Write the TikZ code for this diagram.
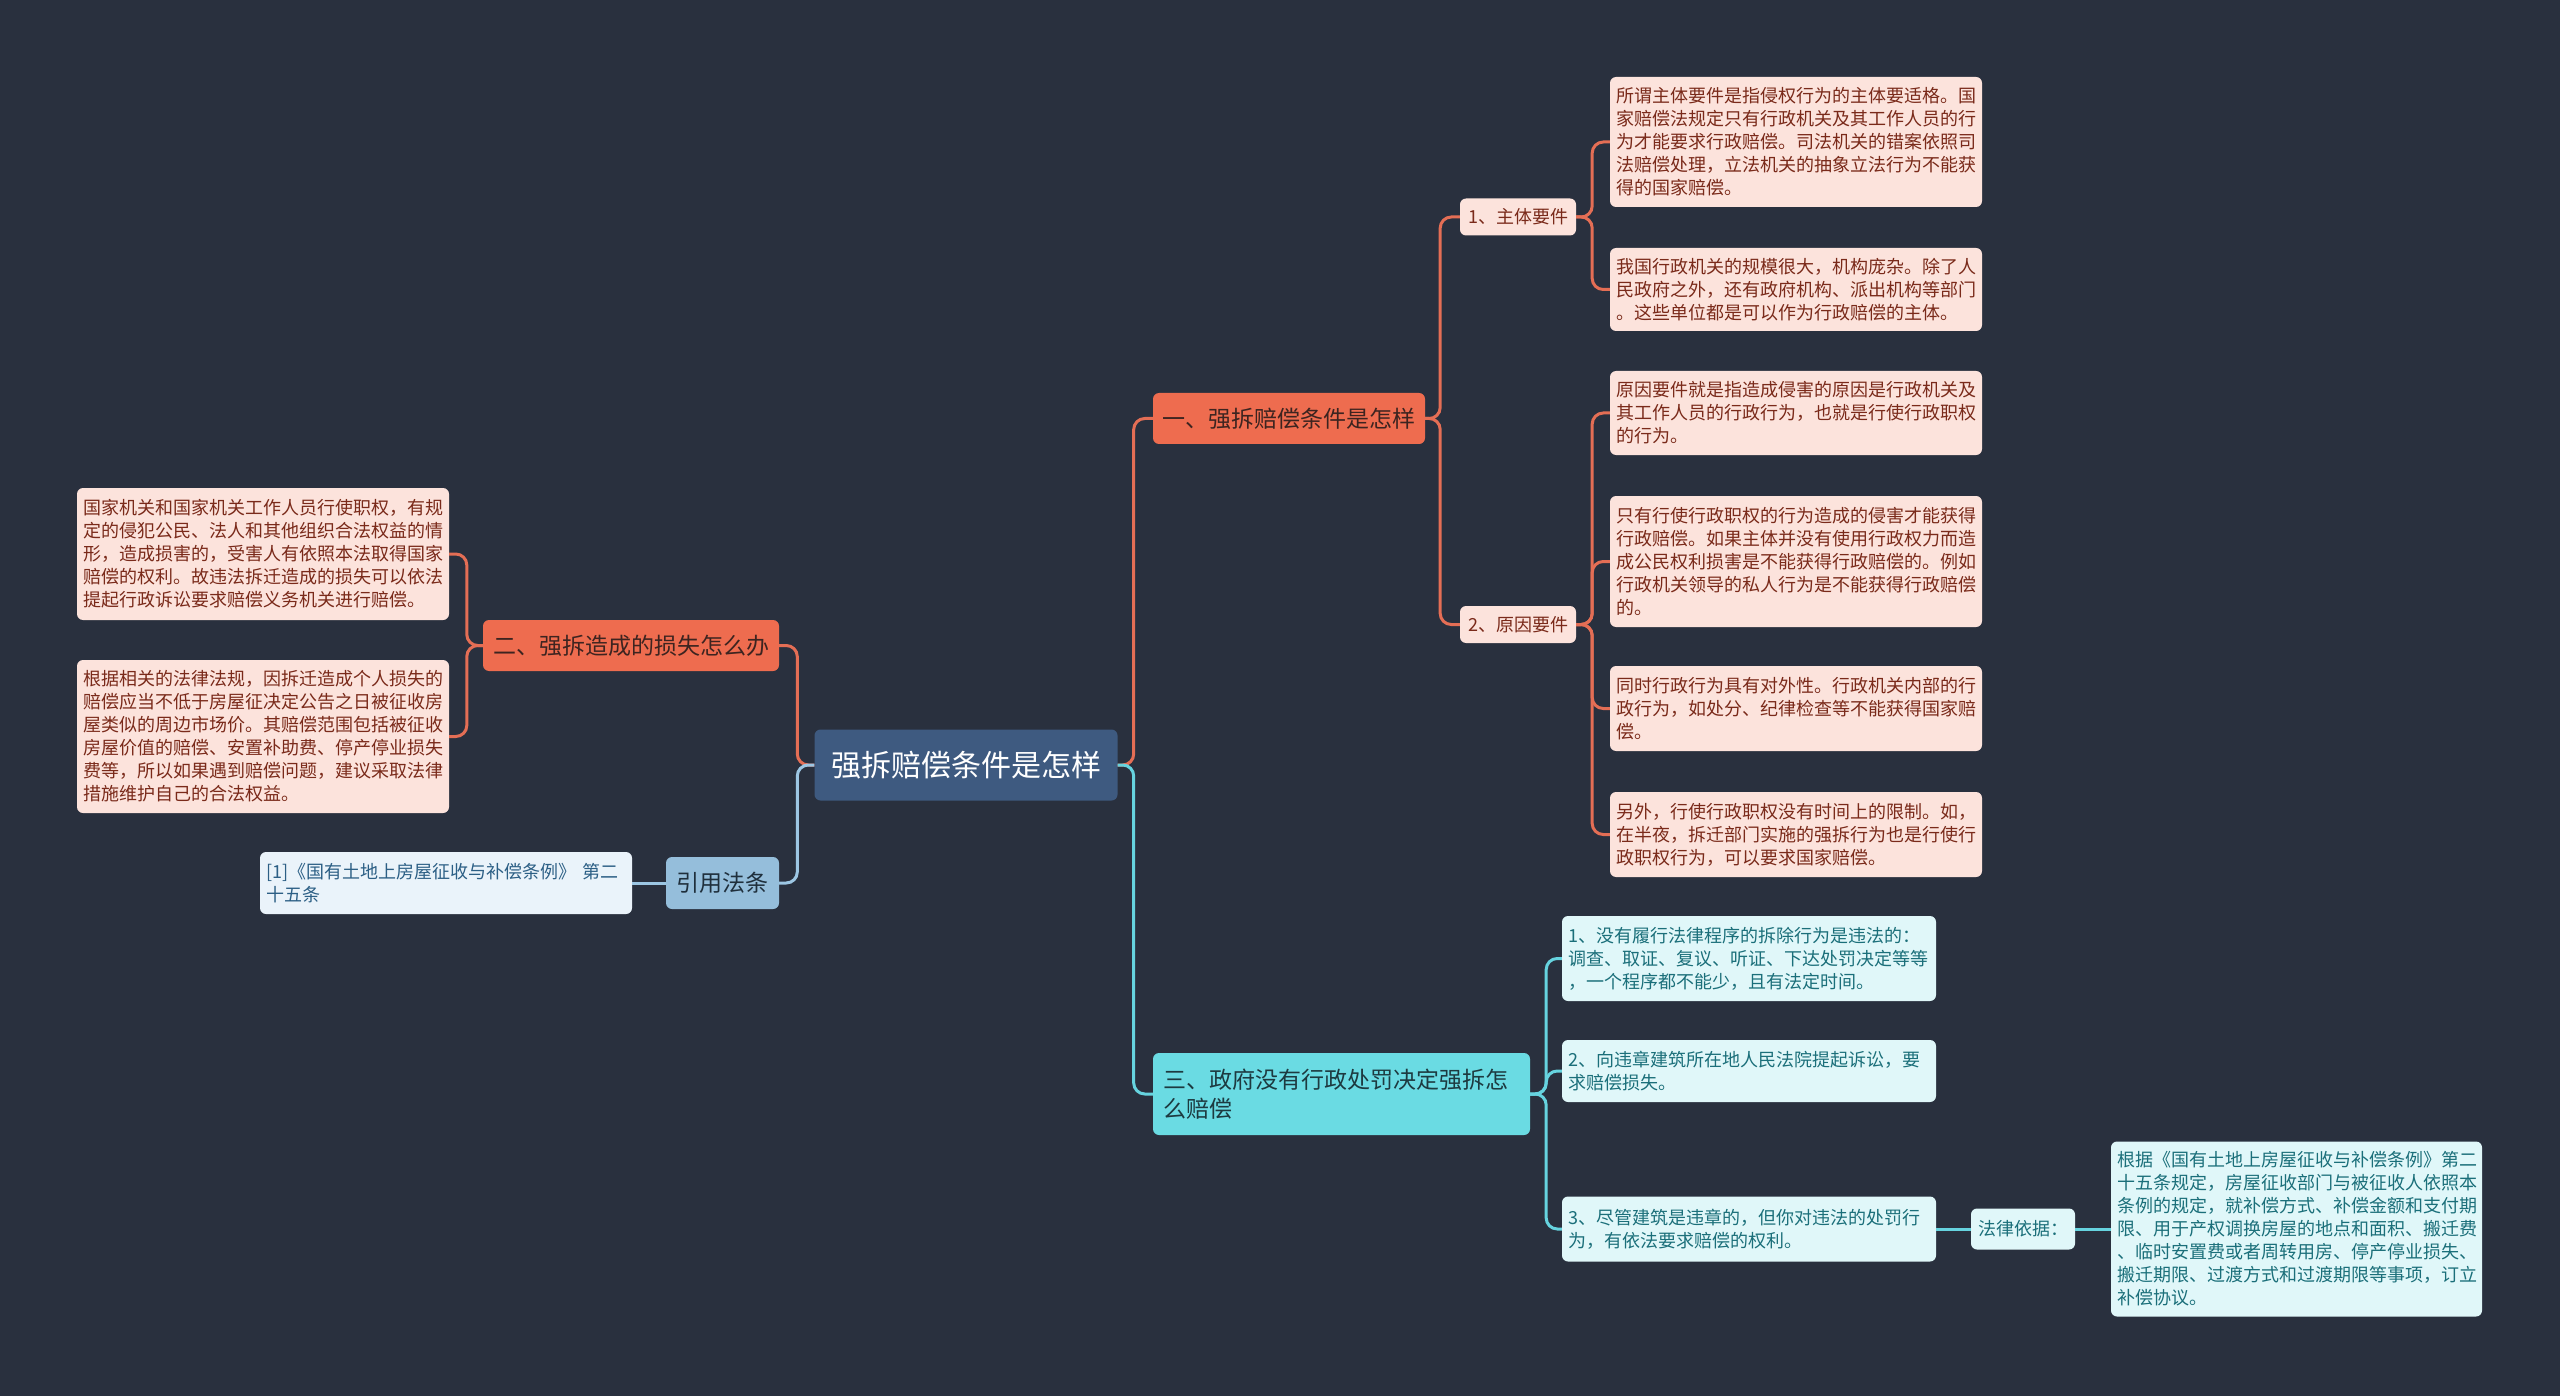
\documentclass[tikz,border=0pt]{standalone}
\usepackage{fontspec}
\setmainfont{Noto Sans CJK SC}
\definecolor{bgc}{HTML}{29303E}
\definecolor{rootc}{HTML}{3E5A80}
\definecolor{oboxc}{HTML}{EE6C4F}
\definecolor{otxtc}{HTML}{3D2420}
\definecolor{oleafc}{HTML}{FCE3DC}
\definecolor{oleaftxt}{HTML}{7A2A1A}
\definecolor{olinec}{HTML}{E46E55}
\definecolor{cboxc}{HTML}{6ADBE3}
\definecolor{ctxtc}{HTML}{1D3A40}
\definecolor{cleafc}{HTML}{E0F7F9}
\definecolor{cleaftxt}{HTML}{1B6F7A}
\definecolor{clinec}{HTML}{66D3DF}
\definecolor{bboxc}{HTML}{95BEDB}
\definecolor{btxtc}{HTML}{1F2F3C}
\definecolor{bleafc}{HTML}{EAF3FA}
\definecolor{bleaftxt}{HTML}{2C5F85}
\definecolor{blinec}{HTML}{9CC6E3}
\newcommand{\leaffnt}{\fontsize{18pt}{23pt}\selectfont}
\newcommand{\midfnt}{\fontsize{23pt}{29pt}\selectfont}
\newcommand{\rootfnt}{\fontsize{30pt}{36pt}\selectfont}
\tikzset{
  basebox/.style={rounded corners=6pt, inner ysep=0pt, anchor=center},
  rootbox/.style={basebox, fill=rootc, text=white, font=\rootfnt, minimum width=303pt, minimum height=71pt},
  obranch/.style={basebox, fill=oboxc, text=otxtc, font=\midfnt},
  osub/.style={basebox, fill=oleafc, text=oleaftxt, font=\leaffnt, minimum width=116pt, minimum height=37pt},
  oleaf/.style={basebox, fill=oleafc, text=oleaftxt, font=\leaffnt, align=left, text width=360pt, inner xsep=6pt},
  cbranch/.style={basebox, fill=cboxc, text=ctxtc, font=\midfnt},
  cleaf/.style={basebox, fill=cleafc, text=cleaftxt, font=\leaffnt, align=left, text width=362pt, inner xsep=6pt},
  bbranch/.style={basebox, fill=bboxc, text=btxtc, font=\midfnt},
  bleaf/.style={basebox, fill=bleafc, text=bleaftxt, font=\leaffnt, align=left, text width=360pt, inner xsep=6pt},
  conn/.style={line width=3pt, rounded corners=11pt},
  oconn/.style={conn, draw=olinec},
  cconn/.style={conn, draw=clinec},
  bconn/.style={conn, draw=blinec},
}
\begin{document}
\begin{tikzpicture}[x=1pt,y=-1pt]
\fill[bgc] (0,0) rectangle (2560,1396);
\useasboundingbox (0,0) rectangle (2560,1396);

% root
\node[rootbox] (root) at (966,765) {强拆赔偿条件是怎样};

% branch 1
\node[obranch, minimum width=272pt, minimum height=51pt] (b1) at (1289,418.5) {一、强拆赔偿条件是怎样};
\node[osub] (s1) at (1518,217) {1、主体要件};
\node[osub] (s2) at (1518,624.5) {2、原因要件};
\node[oleaf, minimum height=130pt] (l1a) at (1796,142) {所谓主体要件是指侵权行为的主体要适格。国\\家赔偿法规定只有行政机关及其工作人员的行\\为才能要求行政赔偿。司法机关的错案依照司\\法赔偿处理，立法机关的抽象立法行为不能获\\得的国家赔偿。};
\node[oleaf, minimum height=83pt] (l1b) at (1796,289.5) {我国行政机关的规模很大，机构庞杂。除了人\\民政府之外，还有政府机构、派出机构等部门\\。这些单位都是可以作为行政赔偿的主体。};
\node[oleaf, minimum height=84pt] (l2a) at (1796,413) {原因要件就是指造成侵害的原因是行政机关及\\其工作人员的行政行为，也就是行使行政职权\\的行为。};
\node[oleaf, minimum height=131pt] (l2b) at (1796,561.5) {只有行使行政职权的行为造成的侵害才能获得\\行政赔偿。如果主体并没有使用行政权力而造\\成公民权利损害是不能获得行政赔偿的。例如\\行政机关领导的私人行为是不能获得行政赔偿\\的。};
\node[oleaf, minimum height=85pt] (l2c) at (1796,708.5) {同时行政行为具有对外性。行政机关内部的行\\政行为，如处分、纪律检查等不能获得国家赔\\偿。};
\node[oleaf, minimum height=85pt] (l2d) at (1796,834.5) {另外，行使行政职权没有时间上的限制。如，\\在半夜，拆迁部门实施的强拆行为也是行使行\\政职权行为，可以要求国家赔偿。};

% branch 2
\node[obranch, minimum width=296pt, minimum height=51pt] (b2) at (631,645.5) {二、强拆造成的损失怎么办};
\node[oleaf, minimum height=132pt] (m1) at (263,554) {国家机关和国家机关工作人员行使职权，有规\\定的侵犯公民、法人和其他组织合法权益的情\\形，造成损害的，受害人有依照本法取得国家\\赔偿的权利。故违法拆迁造成的损失可以依法\\提起行政诉讼要求赔偿义务机关进行赔偿。};
\node[oleaf, minimum height=153pt] (m2) at (263,736.5) {根据相关的法律法规，因拆迁造成个人损失的\\赔偿应当不低于房屋征决定公告之日被征收房\\屋类似的周边市场价。其赔偿范围包括被征收\\房屋价值的赔偿、安置补助费、停产停业损失\\费等，所以如果遇到赔偿问题，建议采取法律\\措施维护自己的合法权益。};

% cited law
\node[bbranch, minimum width=113pt, minimum height=52pt] (cite) at (722.5,883) {引用法条};
\node[bleaf, minimum height=62pt] (r1) at (446,883) {[1]《国有土地上房屋征收与补偿条例》 第二\\十五条};

% branch 3
\node[cbranch, minimum width=377pt, minimum height=82pt, align=left, text width=357pt, inner xsep=10pt] (b3) at (1341.5,1094) {三、政府没有行政处罚决定强拆怎\\么赔偿};
\node[cleaf, minimum height=85pt] (c1) at (1749,958.5) {1、没有履行法律程序的拆除行为是违法的：\\调查、取证、复议、听证、下达处罚决定等等\\，一个程序都不能少，且有法定时间。};
\node[cleaf, minimum height=62pt] (c2) at (1749,1071) {2、向违章建筑所在地人民法院提起诉讼，要\\求赔偿损失。};
\node[cleaf, minimum height=65pt] (c3) at (1749,1229) {3、尽管建筑是违章的，但你对违法的处罚行\\为，有依法要求赔偿的权利。};
\node[basebox, fill=cleafc, text=cleaftxt, font=\leaffnt, minimum width=104pt, minimum height=41pt] (law) at (2023,1229) {法律依据：};
\node[cleaf, minimum height=175pt, text width=359pt] (c4) at (2296.5,1229) {根据《国有土地上房屋征收与补偿条例》第二\\十五条规定，房屋征收部门与被征收人依照本\\条例的规定，就补偿方式、补偿金额和支付期\\限、用于产权调换房屋的地点和面积、搬迁费\\、临时安置费或者周转用房、停产停业损失、\\搬迁期限、过渡方式和过渡期限等事项，订立\\补偿协议。};

% connectors
\draw[oconn] (root.east) -- ++(16,0) |- (b1.west);
\draw[cconn] (root.east) -- ++(16,0) |- (b3.west);
\draw[oconn] (root.west) -- ++(-17,0) |- (b2.east);
\draw[bconn] (root.west) -- ++(-17,0) |- (cite.east);

\draw[oconn] (b1.east) -- ++(15,0) |- (s1.west);
\draw[oconn] (b1.east) -- ++(15,0) |- (s2.west);
\draw[oconn] (s1.east) -- ++(16,0) |- (l1a.west);
\draw[oconn] (s1.east) -- ++(16,0) |- (l1b.west);
\draw[oconn] (s2.east) -- ++(16,0) |- (l2a.west);
\draw[oconn] (s2.east) -- ++(16,0) |- (l2b.west);
\draw[oconn] (s2.east) -- ++(16,0) |- (l2c.west);
\draw[oconn] (s2.east) -- ++(16,0) |- (l2d.west);

\draw[oconn] (b2.west) -- ++(-16,0) |- (m1.east);
\draw[oconn] (b2.west) -- ++(-16,0) |- (m2.east);

\draw[bconn] (cite.west) -- (r1.east);

\draw[cconn] (b3.east) -- ++(16,0) |- (c1.west);
\draw[cconn] (b3.east) -- ++(16,0) |- (c2.west);
\draw[cconn] (b3.east) -- ++(16,0) |- (c3.west);
\draw[cconn] (c3.east) -- (law.west);
\draw[cconn] (law.east) -- (c4.west);
\end{tikzpicture}
\end{document}
